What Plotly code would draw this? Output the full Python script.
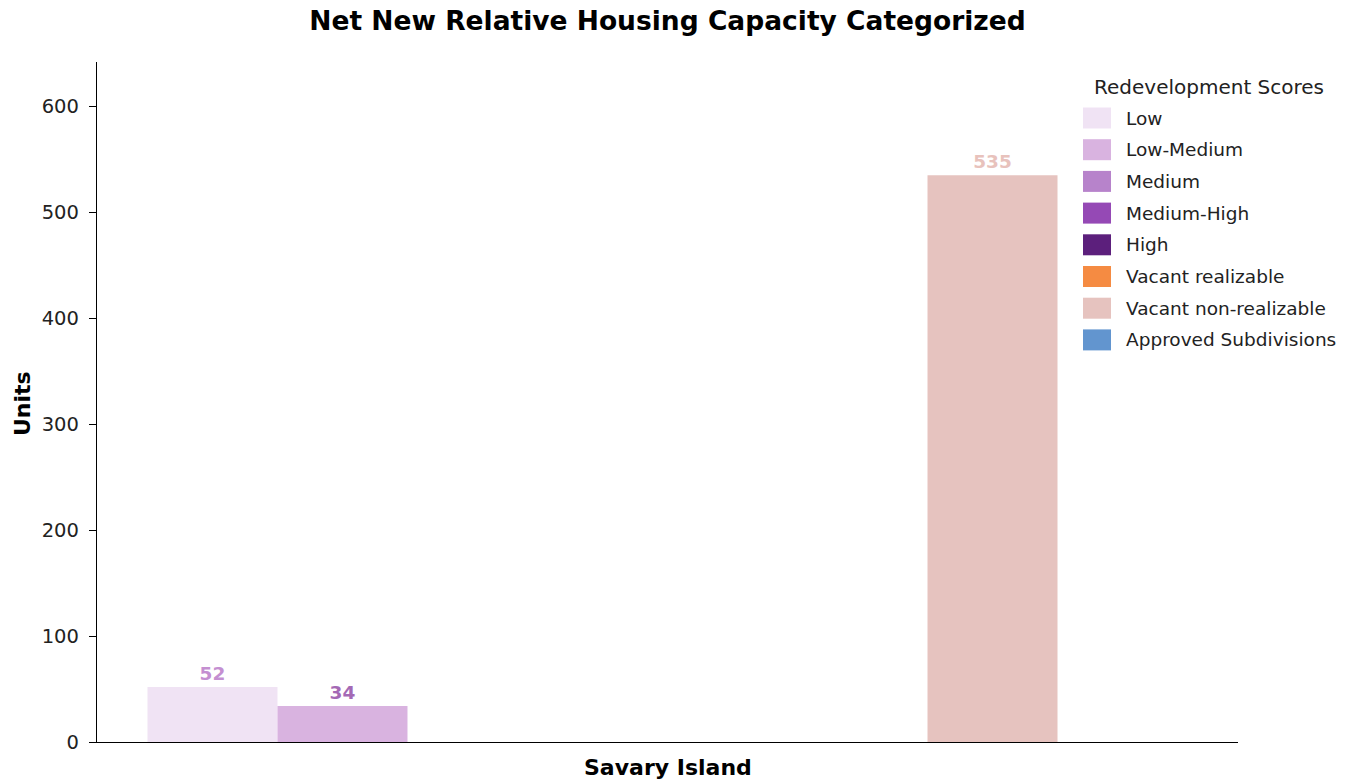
import plotly.graph_objects as go

# Data
region = ["Savary Island"]
categories = ["Low", "Low-Medium", "Medium", "Medium-High", "High",
              "Vacant realizable", "Vacant non-realizable", "Approved Subdivisions"]
units = [52, 34, 0, 0, 0, 0, 535, 0]
bar_colors = ["#f0e3f4", "#d9b3e0", "#b783cb", "#9549b5", "#5c1f7c",
              "#f58b42", "#e6c3bf", "#6295cf"]
label_colors = ["#c48fd1", "#a469b5", "#8f5aa6", "#7a3a96", "#4a1866",
                "#d2702c", "#e8c2bc", "#4f7db3"]

FONT = "DejaVu Sans"

fig = go.Figure()
for cat, val, col, lcol in zip(categories, units, bar_colors, label_colors):
    fig.add_trace(go.Bar(
        x=region, y=[val], name=cat,
        marker=dict(color=col, line=dict(width=0)),
        text=[str(val) if val > 0 else ""],
        textposition="outside",
        textfont=dict(family=FONT, size=18.5, color=lcol, weight="bold"),
        cliponaxis=False,
        showlegend=False,
    ))

# Legend drawn as swatches + labels in paper coordinates
shapes = []
annotations = []
lx0, lx1 = 1083, 1111  # swatch pixel extents
plot_l, plot_r, plot_t, plot_b = 97, 1238, 62, 742
pw, ph = plot_r - plot_l, plot_b - plot_t

def px_x(x):
    return (x - plot_l) / pw

def px_y(y):
    return (plot_b - y) / ph

annotations.append(dict(
    text="Redevelopment Scores", xref="paper", yref="paper",
    x=px_x(1208.5), y=px_y(87), xanchor="center", yanchor="middle",
    showarrow=False, font=dict(family=FONT, size=20, color="#222222")))
for i, (cat, col) in enumerate(zip(categories, bar_colors)):
    yc = 118 + i * 31.7
    shapes.append(dict(
        type="rect", xref="paper", yref="paper",
        x0=px_x(lx0), x1=px_x(lx1), y0=px_y(yc + 10.5), y1=px_y(yc - 10.5),
        fillcolor=col, line=dict(width=0)))
    annotations.append(dict(
        text=cat, xref="paper", yref="paper",
        x=px_x(1124), y=px_y(yc), xanchor="left", yanchor="middle",
        showarrow=False, font=dict(family=FONT, size=18.5, color="#222222")))

# Axis titles
annotations.append(dict(
    text="<b>Savary Island</b>", xref="paper", yref="paper",
    x=0.5, y=px_y(767), xanchor="center", yanchor="middle",
    showarrow=False, font=dict(family=FONT, size=22, color="black")))
annotations.append(dict(
    text="<b>Units</b>", xref="paper", yref="paper",
    x=px_x(22), y=px_y(404), xanchor="center", yanchor="middle", textangle=-90,
    showarrow=False, font=dict(family=FONT, size=22, color="black")))

fig.update_layout(
    width=1353, height=781,
    margin=dict(l=plot_l, r=1353 - plot_r, t=plot_t, b=781 - plot_b),
    paper_bgcolor="white", plot_bgcolor="white",
    barmode="group", bargap=0.0885, bargroupgap=0,
    title=dict(text="<b>Net New Relative Housing Capacity Categorized</b>",
               x=0.5, xref="paper", xanchor="center",
               y=1 - 21 / 781, yref="container", yanchor="middle",
               font=dict(family=FONT, size=26.5, color="black")),
    font=dict(family=FONT, color="#222222"),
    shapes=shapes,
    annotations=annotations,
    showlegend=False,
)

fig.update_xaxes(
    showline=True, linecolor="black", linewidth=1.3, automargin=False,
    ticks="", showticklabels=False, showgrid=False, zeroline=False,
)
fig.update_yaxes(
    range=[0, 642], showline=True, linecolor="black", linewidth=1.3,
    automargin=False,
    ticks="outside", ticklen=7, tickwidth=1.3, tickcolor="black",
    ticklabelstandoff=6,
    tickvals=[0, 100, 200, 300, 400, 500, 600],
    tickfont=dict(family=FONT, size=19.5, color="#222222"),
    showgrid=False, zeroline=False,
)

fig.write_html("out.html")
